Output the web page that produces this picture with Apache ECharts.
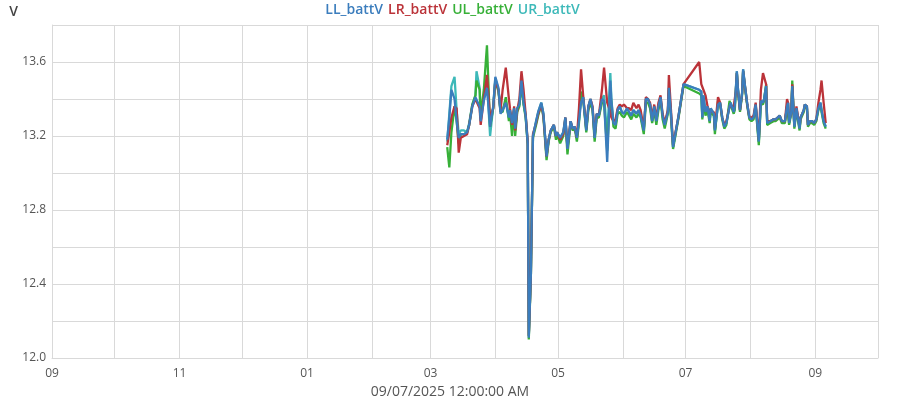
<!DOCTYPE html>
<html>
<head>
<meta charset="utf-8">
<script src="https://cdn.jsdelivr.net/npm/echarts@6/dist/echarts.min.js"></script>
<style>
html,body{margin:0;padding:0;background:#fff;}
#chart{width:900px;height:400px;}
</style>
</head>
<body>
<div id="chart"></div>
<script>
// ---- data ----
const seriesNames = ['LL_battV', 'LR_battV', 'UL_battV', 'UR_battV'];
const xAxisTitle = '09/07/2025 12:00:00 AM';
const yAxisTitle = 'V';
const xMin = '2024-09-01';
const xMax = '2025-10-01';

const dates = [
 '2025-03-09','2025-03-10','2025-03-11','2025-03-12 12:00','2025-03-13 12:00','2025-03-14 12:00','2025-03-15 12:00','2025-03-17','2025-03-18 12:00','2025-03-19 12:00',
 '2025-03-21','2025-03-22 12:00','2025-03-23','2025-03-24 12:00','2025-03-25','2025-03-26 12:00','2025-03-28','2025-03-29 12:00','2025-03-31','2025-04-01',
 '2025-04-02 12:00','2025-04-03 12:00','2025-04-04 12:00','2025-04-06','2025-04-07 12:00','2025-04-08','2025-04-09','2025-04-10','2025-04-10 12:00','2025-04-11 12:00',
 '2025-04-12 12:00','2025-04-13 12:00','2025-04-14 12:00','2025-04-15 12:00','2025-04-16 12:00','2025-04-17','2025-04-18','2025-04-19',
 '2025-04-20 12:00','2025-04-21 12:00','2025-04-23','2025-04-24','2025-04-25 12:00','2025-04-26 12:00','2025-04-27 12:00','2025-04-29','2025-04-30','2025-04-30 12:00',
 '2025-05-02','2025-05-03 12:00','2025-05-04 12:00','2025-05-05 12:00','2025-05-07','2025-05-08','2025-05-09','2025-05-10','2025-05-11','2025-05-12',
 '2025-05-13','2025-05-14 12:00','2025-05-15 12:00','2025-05-16 12:00','2025-05-17 12:00','2025-05-18 12:00','2025-05-19 12:00','2025-05-20 12:00','2025-05-21','2025-05-22',
 '2025-05-23','2025-05-24 12:00','2025-05-26','2025-05-26 12:00','2025-05-27 12:00','2025-05-28 12:00','2025-05-29 12:00','2025-05-30 12:00','2025-05-31 12:00','2025-06-01 12:00',
 '2025-06-03','2025-06-04','2025-06-05','2025-06-06','2025-06-07 12:00','2025-06-08 12:00','2025-06-09 12:00','2025-06-11','2025-06-12','2025-06-13',
 '2025-06-14','2025-06-15','2025-06-16','2025-06-17','2025-06-18','2025-06-19','2025-06-20','2025-06-21','2025-06-22 12:00','2025-06-23',
 '2025-06-24','2025-06-25','2025-06-27 12:00','2025-06-30',
 '2025-07-07 12:00','2025-07-08 12:00','2025-07-09','2025-07-09 12:00','2025-07-10 12:00','2025-07-11 12:00','2025-07-12 12:00','2025-07-13','2025-07-14 12:00','2025-07-15',
 '2025-07-16 12:00','2025-07-17 12:00','2025-07-18 12:00','2025-07-19 12:00','2025-07-20 12:00','2025-07-22','2025-07-22 12:00','2025-07-24','2025-07-24 12:00','2025-07-25',
 '2025-07-25 12:00','2025-07-26','2025-07-27','2025-07-28','2025-07-28 12:00','2025-07-29 12:00','2025-07-30 12:00','2025-07-31 12:00','2025-08-01 12:00','2025-08-02 12:00',
 '2025-08-03 12:00','2025-08-05','2025-08-06','2025-08-07','2025-08-07 12:00','2025-08-08 12:00','2025-08-09','2025-08-10 12:00','2025-08-12','2025-08-13',
 '2025-08-14','2025-08-15','2025-08-16','2025-08-17 12:00','2025-08-18 12:00','2025-08-19','2025-08-19 12:00','2025-08-20 12:00','2025-08-21','2025-08-22',
 '2025-08-23','2025-08-23 12:00','2025-08-24 12:00','2025-08-25','2025-08-26 12:00','2025-08-27','2025-08-28','2025-08-28 12:00','2025-08-29 12:00','2025-08-30 12:00',
 '2025-08-31 12:00','2025-09-01 12:00','2025-09-02 12:00','2025-09-03 12:00','2025-09-04','2025-09-05','2025-09-06'
];

const llBattV = [
 13.18,13.30,13.45,13.40,13.28,13.19,13.21,13.21,13.22,13.26,
 13.36,13.41,13.40,13.36,13.28,13.39,13.46,13.25,13.36,13.52,
 13.46,13.32,13.34,13.38,13.30,13.34,13.27,13.35,13.24,13.35,
 13.37,13.50,13.38,13.31,13.16,12.11,12.45,13.20,
 13.28,13.33,13.38,13.32,13.09,13.18,13.23,13.26,13.20,13.22,
 13.19,13.22,13.30,13.13,13.28,13.24,13.25,13.19,13.28,13.38,
 13.41,13.23,13.36,13.40,13.35,13.19,13.32,13.31,13.30,13.40,
 13.39,13.06,13.50,13.39,13.27,13.26,13.34,13.36,13.33,13.32,
 13.35,13.33,13.31,13.34,13.32,13.34,13.31,13.23,13.40,13.40,
 13.37,13.28,13.36,13.28,13.36,13.41,13.31,13.26,13.33,13.46,
 13.32,13.14,13.30,13.48,
 13.45,13.44,13.30,13.42,13.33,13.36,13.28,13.35,13.32,13.23,
 13.37,13.38,13.30,13.25,13.27,13.36,13.38,13.33,13.36,13.45,
 13.55,13.46,13.34,13.43,13.56,13.46,13.37,13.30,13.29,13.30,
 13.37,13.17,13.39,13.38,13.40,13.47,13.27,13.28,13.29,13.29,
 13.30,13.31,13.28,13.28,13.36,13.38,13.27,13.33,13.47,13.25,
 13.35,13.34,13.24,13.30,13.34,13.37,13.36,13.26,13.28,13.28,
 13.27,13.29,13.35,13.38,13.34,13.28,13.25
];

const lrBattV = [
 13.15,13.22,13.30,13.36,13.35,13.11,13.19,13.20,13.21,13.26,
 13.36,13.40,13.39,13.35,13.26,13.40,13.53,13.30,13.35,13.50,
 13.45,13.34,13.45,13.57,13.40,13.35,13.26,13.36,13.23,13.34,
 13.40,13.55,13.45,13.32,13.17,12.12,12.45,13.21,
 13.27,13.32,13.37,13.31,13.09,13.18,13.23,13.26,13.20,13.22,
 13.18,13.21,13.30,13.14,13.28,13.24,13.25,13.19,13.35,13.56,
 13.42,13.24,13.36,13.40,13.36,13.20,13.32,13.31,13.30,13.45,
 13.57,13.38,13.33,13.30,13.28,13.29,13.35,13.37,13.36,13.37,
 13.35,13.35,13.34,13.38,13.35,13.37,13.34,13.24,13.41,13.40,
 13.38,13.30,13.37,13.29,13.38,13.42,13.32,13.27,13.34,13.53,
 13.34,13.15,13.30,13.48,
 13.60,13.48,13.47,13.45,13.42,13.36,13.33,13.34,13.33,13.24,
 13.41,13.38,13.30,13.26,13.28,13.36,13.37,13.36,13.35,13.44,
 13.54,13.45,13.34,13.43,13.55,13.46,13.37,13.30,13.30,13.31,
 13.38,13.18,13.45,13.54,13.54,13.48,13.28,13.28,13.29,13.29,
 13.30,13.31,13.28,13.28,13.40,13.38,13.28,13.33,13.48,13.26,
 13.36,13.35,13.25,13.30,13.34,13.37,13.36,13.26,13.28,13.28,
 13.27,13.29,13.38,13.45,13.50,13.38,13.27
];

const ulBattV = [
 13.14,13.03,13.22,13.36,13.28,13.16,13.21,13.21,13.22,13.26,
 13.37,13.42,13.50,13.45,13.31,13.45,13.69,13.25,13.35,13.50,
 13.44,13.33,13.33,13.41,13.28,13.33,13.20,13.34,13.20,13.33,
 13.36,13.48,13.37,13.30,13.15,12.10,12.44,13.19,
 13.26,13.31,13.37,13.30,13.07,13.17,13.22,13.25,13.18,13.21,
 13.16,13.20,13.29,13.10,13.27,13.23,13.24,13.17,13.27,13.44,
 13.40,13.22,13.34,13.38,13.34,13.17,13.30,13.30,13.29,13.38,
 13.38,13.12,13.45,13.37,13.25,13.24,13.32,13.33,13.31,13.30,
 13.33,13.31,13.29,13.32,13.30,13.32,13.30,13.21,13.38,13.38,
 13.35,13.27,13.34,13.26,13.34,13.40,13.29,13.24,13.32,13.45,
 13.30,13.13,13.29,13.47,
 13.43,13.42,13.29,13.40,13.31,13.34,13.27,13.33,13.31,13.21,
 13.39,13.37,13.29,13.24,13.26,13.39,13.37,13.32,13.34,13.44,
 13.54,13.45,13.33,13.42,13.55,13.45,13.36,13.29,13.28,13.29,
 13.36,13.15,13.38,13.37,13.39,13.48,13.26,13.27,13.28,13.28,
 13.29,13.30,13.27,13.27,13.36,13.37,13.26,13.32,13.50,13.24,
 13.34,13.33,13.23,13.29,13.33,13.36,13.35,13.25,13.27,13.27,
 13.26,13.28,13.34,13.37,13.33,13.27,13.24
];

const urBattV = [
 13.17,13.32,13.47,13.52,13.34,13.21,13.23,13.23,13.22,13.27,
 13.37,13.42,13.55,13.46,13.30,13.42,13.50,13.20,13.36,13.51,
 13.45,13.33,13.34,13.39,13.30,13.34,13.27,13.35,13.24,13.35,
 13.37,13.50,13.38,13.31,13.16,12.12,12.45,13.20,
 13.28,13.33,13.38,13.32,13.09,13.18,13.23,13.26,13.20,13.22,
 13.19,13.22,13.30,13.13,13.28,13.24,13.25,13.19,13.29,13.40,
 13.41,13.23,13.36,13.40,13.35,13.19,13.32,13.31,13.30,13.40,
 13.42,13.20,13.54,13.40,13.27,13.26,13.34,13.36,13.33,13.32,
 13.35,13.33,13.31,13.34,13.32,13.34,13.31,13.23,13.40,13.40,
 13.37,13.28,13.36,13.28,13.36,13.41,13.31,13.26,13.33,13.46,
 13.32,13.14,13.30,13.48,
 13.45,13.44,13.30,13.42,13.33,13.36,13.28,13.35,13.32,13.23,
 13.37,13.38,13.30,13.25,13.27,13.36,13.38,13.33,13.36,13.45,
 13.55,13.46,13.34,13.43,13.56,13.46,13.37,13.30,13.29,13.30,
 13.37,13.17,13.39,13.38,13.40,13.47,13.27,13.28,13.29,13.29,
 13.30,13.31,13.28,13.28,13.36,13.38,13.27,13.33,13.47,13.25,
 13.35,13.34,13.24,13.30,13.34,13.37,13.36,13.26,13.28,13.28,
 13.27,13.29,13.35,13.38,13.34,13.28,13.25
];

const colors = {
  'LL_battV': '#3b7dbd',
  'LR_battV': '#bb3339',
  'UL_battV': '#37b038',
  'UR_battV': '#3db9b9'
};
const valuesByName = {
  'LL_battV': llBattV,
  'LR_battV': lrBattV,
  'UL_battV': ulBattV,
  'UR_battV': urBattV
};

// ---- chart ----
const FONT = '"Open Sans", "Noto Sans", sans-serif';
const chart = echarts.init(document.getElementById('chart'), null, {renderer: 'canvas'});

const drawOrder = ['UR_battV', 'UL_battV', 'LR_battV', 'LL_battV'];
const series = drawOrder.map(name => ({
  name: name,
  type: 'line',
  showSymbol: false,
  symbol: 'none',
  animation: false,
  color: colors[name],
  lineStyle: {width: 2.3, color: colors[name]},
  data: dates.map((d, i) => [d, valuesByName[name][i]])
}));

const option = {
  animation: false,
  textStyle: {fontFamily: FONT},
  grid: {left: 52, right: 22, top: 25, bottom: 42, containLabel: false},
  legend: {
    top: 1,
    left: 'center',
    icon: 'none',
    itemWidth: 0,
    itemHeight: 0,
    itemGap: 0,
    padding: [2, 5, 2, 5],
    data: seriesNames.map(n => ({name: n, textStyle: {color: colors[n]}})),
    textStyle: {fontFamily: FONT, fontSize: 14, fontWeight: 600, padding: [0, 2, 0, 0]}
  },
  title: {
    text: xAxisTitle,
    left: 'center',
    top: 385,
    padding: 0,
    textStyle: {fontFamily: FONT, fontSize: 14, fontWeight: 'normal', color: '#555'}
  },
  xAxis: {
    type: 'time',
    min: xMin,
    max: xMax,
    splitNumber: 13,
    minInterval: 28 * 86400000,
    maxInterval: 31 * 86400000,
    axisLine: {show: true, lineStyle: {color: '#d9d9d9', width: 1}},
    axisTick: {show: false},
    splitLine: {show: true, lineStyle: {color: '#d9d9d9', width: 1}},
    axisLabel: {
      color: '#555',
      fontSize: 12,
      fontFamily: FONT,
      hideOverlap: false,
      margin: 10,
      formatter: function (val) {
        const m = new Date(val).getMonth() + 1;
        return m % 2 === 1 ? String(m).padStart(2, '0') : '';
      }
    }
  },
  yAxis: {
    type: 'value',
    min: 12.0,
    max: 13.8,
    interval: 0.2,
    name: yAxisTitle,
    nameLocation: 'end',
    nameGap: 6,
    nameTextStyle: {color: '#444', fontSize: 14, fontWeight: 600, fontFamily: FONT, align: 'right', padding: [0, 34, 0, 0]},
    axisLine: {show: true, lineStyle: {color: '#d9d9d9', width: 1}},
    axisTick: {show: false},
    splitLine: {show: true, lineStyle: {color: '#d9d9d9', width: 1}},
    axisLabel: {
      color: '#555',
      fontSize: 12,
      fontFamily: FONT,
      margin: 6,
      formatter: function (v) {
        return Math.round(v * 10) % 4 === 0 ? v.toFixed(1) : '';
      }
    }
  },
  series: series
};
chart.setOption(option);
</script>
</body>
</html>
